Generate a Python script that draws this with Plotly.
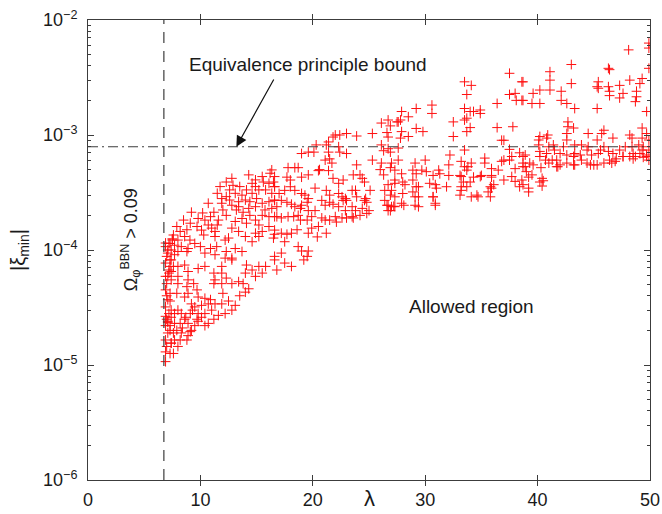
import math
import plotly.graph_objects as go

# ---- data (lambda, |xi_min|) ----
pts_edge = [
    (6.9,1.07e-5),(6.9,1.3e-5),(7.0,1.45e-5),(6.9,1.65e-5),(7.1,1.9e-5),(6.9,2.2e-5),(7.0,2.5e-5),(7.2,2.8e-5),(6.9,3.2e-5),(7.1,3.7e-5),
    (6.9,4.5e-5),(7.0,5.1e-5),(6.9,5.9e-5),(7.2,6.7e-5),(6.9,7.7e-5),(7.0,8.8e-5),(7.1,1.0e-4),(6.9,1.07e-4),(7.3,1.14e-4),(7.1,9.4e-5),
    (7.3,1.26e-5),(7.4,1.55e-5),(7.3,2.0e-5),(7.4,3.0e-5),(7.3,4.2e-5),(7.4,5.5e-5),(7.3,7.2e-5),(7.4,8.2e-5),(7.5,1.22e-4),(7.2,6.3e-5),
    (6.9,1.15e-4),(7.0,4.0e-5),(7.1,2.35e-5),(6.9,2.65e-5),
]
pts_low = [
    (7.6,1.26e-5),(8.0,1.45e-5),(7.4,1.55e-5),(7.7,1.65e-5),(8.2,1.65e-5),(8.8,1.65e-5),(8.9,1.8e-5),(7.6,1.9e-5),(8.3,1.9e-5),(9.1,1.95e-5),
    (7.9,2.0e-5),(9.2,2.0e-5),(7.3,2.2e-5),(9.5,2.2e-5),(10.4,2.2e-5),(7.7,2.3e-5),(8.2,2.3e-5),(8.9,2.3e-5),(10.7,2.3e-5),(7.1,2.4e-5),
    (9.8,2.4e-5),(8.6,2.5e-5),(9.7,2.5e-5),(11.2,2.5e-5),(7.4,2.6e-5),(10.1,2.6e-5),(11.6,2.7e-5),(7.7,2.8e-5),(8.3,2.8e-5),(9.1,2.8e-5),
    (9.8,2.8e-5),(10.4,2.8e-5),(12.2,2.8e-5),(8.0,3.0e-5),(11.0,3.0e-5),(12.8,3.0e-5),(9.5,3.2e-5),(10.1,3.3e-5),(13.1,3.3e-5),(9.2,3.4e-5),
    (10.7,3.4e-5),(11.3,3.4e-5),(11.9,3.4e-5),(7.3,3.6e-5),(10.4,3.8e-5),(8.6,3.9e-5),(9.8,3.9e-5),(8.9,4.2e-5),(7.9,4.2e-5),(9.7,4.5e-5),
    (8.8,4.8e-5),(9.4,5.1e-5),(8.0,5.1e-5),(8.9,5.5e-5),(11.2,5.1e-5),(11.9,5.1e-5),(12.8,5.1e-5),(13.4,5.3e-5),(13.8,5.1e-5),(14.3,4.6e-5),
    (14.0,4.3e-5),(11.3,5.5e-5),(12.3,5.7e-5),(8.4,2.1e-5),(8.7,2.6e-5),(9.3,3.0e-5),(10.9,3.7e-5),(12.5,3.6e-5),(13.5,4.0e-5),(12.0,4.2e-5),
]
pts_mid = [
    (7.7,9.1e-5),(7.3,8.2e-5),(7.6,7.2e-5),(8.0,7.2e-5),(7.4,6.5e-5),(7.1,5.9e-5),(8.6,7.4e-5),(8.9,6.5e-5),(8.0,5.9e-5),(9.8,6.9e-5),
    (10.4,7.2e-5),(11.2,6.3e-5),(11.9,7.2e-5),(12.8,8.2e-5),(11.9,6.3e-5),(15.2,7.2e-5),(14.0,6.3e-5),(14.6,6.7e-5),(14.1,7.4e-5),(15.8,7.2e-5),
    (16.6,8.2e-5),(16.8,6.7e-5),(15.5,6.3e-5),(14.9,5.9e-5),(12.2,8.5e-5),(12.8,8.5e-5),(12.3,9.7e-5),(13.1,1.03e-4),(13.7,9.7e-5),(11.45,1.07e-4),
    (7.6,1.35e-4),(8.0,1.22e-4),(8.6,1.31e-4),(9.07,1.22e-4),(9.5,1.14e-4),(7.2,1.14e-4),(7.7,1.1e-4),(8.3,1.07e-4),(8.9,1.03e-4),(7.4,1.0e-4),
    (8.0,9.7e-5),(8.8,9.7e-5),(10.0,1.07e-4),(10.9,1.03e-4),(11.3,9.1e-5),(10.4,9.4e-5),(8.5,1.82e-4),(9.1,1.71e-4),(9.2,2.13e-4),(9.8,1.88e-4),
    (9.7,1.6e-4),(10.1,1.49e-4),(10.4,1.82e-4),(10.7,1.65e-4),(11.0,1.55e-4),(11.3,1.45e-4),(10.3,1.35e-4),(11.3,1.31e-4),(12.2,1.22e-4),(12.5,1.27e-4),
    (8.2,1.45e-4),(7.9,1.6e-4),(8.8,1.5e-4),(7.5,1.25e-4),
]
pts_up = [
    (10.7,2.55e-4),(11.2,2.13e-4),(11.9,2.55e-4),(12.0,2.23e-4),(12.3,2.0e-4),(11.6,1.82e-4),(11.5,1.65e-4),(16.35,4.97e-4),(16.2,4.65e-4),(14.3,4.5e-4),
    (15.5,4.35e-4),(15.6,3.9e-4),(14.6,3.8e-4),(14.9,3.56e-4),(16.1,3.8e-4),(16.5,3.9e-4),(16.6,3.56e-4),(15.2,3.33e-4),(15.8,3.33e-4),(16.35,3.11e-4),
    (14.6,3.11e-4),(14.1,3.33e-4),(12.3,3.9e-4),(12.9,3.65e-4),(12.6,3.33e-4),(13.1,3.11e-4),(12.3,2.91e-4),(13.7,3.0e-4),(13.4,2.63e-4),(14.0,2.72e-4),
    (12.8,2.45e-4),(13.4,2.38e-4),(14.3,2.3e-4),(14.9,2.38e-4),(15.5,2.55e-4),(16.1,2.63e-4),(16.6,2.72e-4),(16.8,2.38e-4),(13.1,1.77e-4),(13.7,1.88e-4),
    (14.4,2.0e-4),(14.9,1.82e-4),(15.5,2.0e-4),(16.1,1.95e-4),(16.8,1.95e-4),(14.0,1.31e-4),(14.6,1.18e-4),(15.2,1.31e-4),(15.5,1.45e-4),(16.1,1.6e-4),
    (16.6,1.49e-4),(16.5,1.27e-4),(14.9,1.4e-4),(13.4,1.45e-4),(12.8,1.55e-4),(11.75,3.56e-4),(11.5,3.11e-4),(11.9,2.8e-4),(12.6,2.72e-4),(13.2,2.23e-4),
    (13.8,2.13e-4),(14.1,1.71e-4),(15.2,1.65e-4),(15.75,2.23e-4),(16.35,2.3e-4),(15.0,2.8e-4),(14.4,2.63e-4),(13.5,3.56e-4),(12.8,4.2e-4),(14.9,4.07e-4),
    (16.6,4.35e-4),(10.9,1.95e-4),(10.2,2.1e-4),
]
pts_mid_lam = [
    (26.1,1.27e-3),(26.7,1.35e-3),(26.9,1.2e-3),(26.6,1.05e-3),(26.7,9.6e-4),(27.5,1.3e-3),(25.3,1.03e-3),(22.0,1.0e-3),(22.4,1.0e-3),(23.0,1.03e-3),
    (23.9,9.8e-4),(21.8,9.6e-4),(20.3,8.2e-4),(21.2,8.2e-4),(21.4,8.7e-4),(22.3,7.9e-4),(22.4,7.1e-4),(23.0,6.9e-4),(26.1,8.2e-4),(26.3,7.3e-4),
    (26.7,7.6e-4),(26.9,7.1e-4),(19.0,6.9e-4),(19.6,7.1e-4),(20.1,7.1e-4),(21.4,7.1e-4),(21.1,6.05e-4),(21.5,6.2e-4),(21.7,5.7e-4),(23.9,5.5e-4),
    (25.3,6.05e-4),(26.1,5.7e-4),(27.0,5.7e-4),(26.9,5.2e-4),(26.0,5.0e-4),(26.3,4.5e-4),(17.8,5.2e-4),(18.4,5.2e-4),(18.7,5.2e-4),(17.7,4.3e-4),
    (18.0,4.06e-4),(19.0,4.3e-4),(19.6,4.5e-4),(20.5,4.9e-4),(20.6,5.0e-4),(21.4,4.9e-4),(21.8,4.2e-4),(22.7,4.06e-4),(22.3,3.8e-4),(23.6,4.5e-4),
    (24.2,4.5e-4),(24.4,4.2e-4),(24.6,3.9e-4),(16.6,3.55e-4),(17.0,3.1e-4),(17.5,3.3e-4),(18.0,3.55e-4),(18.4,3.3e-4),(19.0,3.1e-4),(19.3,3.0e-4),
    (19.6,2.8e-4),(20.2,3.45e-4),(21.2,3.3e-4),(21.5,3.0e-4),(22.3,3.1e-4),(22.6,2.9e-4),(22.9,2.8e-4),(23.5,3.3e-4),(23.8,3.3e-4),(23.9,2.9e-4),
    (24.7,2.8e-4),(25.1,3.3e-4),(26.4,3.3e-4),(26.7,3.7e-4),(27.0,3.3e-4),(27.3,4.06e-4),(26.9,3.0e-4),(16.6,2.7e-4),(17.2,2.7e-4),(17.7,2.6e-4),
    (18.1,2.5e-4),(18.4,2.38e-4),(18.9,2.3e-4),(19.0,2.45e-4),(19.5,2.6e-4),(19.6,2.2e-4),(20.2,2.2e-4),(20.8,2.7e-4),(21.1,2.45e-4),(21.5,2.6e-4),
    (21.8,2.5e-4),(22.3,2.38e-4),(22.7,2.7e-4),(23.0,2.7e-4),(23.5,2.38e-4),(23.8,2.2e-4),(24.4,2.3e-4),(25.0,2.2e-4),(26.4,2.7e-4),(26.7,2.45e-4),
    (27.0,2.38e-4),(26.9,2.2e-4),(22.9,2.2e-4),(23.5,1.95e-4),(16.6,1.95e-4),(17.2,1.9e-4),(17.8,1.95e-4),(18.3,1.95e-4),(18.7,2.0e-4),(18.9,1.82e-4),
    (19.5,1.82e-4),(19.9,1.95e-4),(20.8,1.9e-4),(21.1,1.82e-4),(21.5,1.82e-4),(22.0,1.95e-4),(22.1,1.75e-4),(22.6,1.9e-4),(23.0,1.9e-4),(23.6,1.9e-4),
    (16.6,1.37e-4),(17.2,1.4e-4),(17.7,1.37e-4),(18.1,1.4e-4),(18.6,1.5e-4),(19.6,1.4e-4),(19.9,1.55e-4),(20.5,1.6e-4),(21.2,1.4e-4),(20.4,1.3e-4),
    (18.7,1.07e-4),(19.0,9.8e-5),(19.6,9.8e-5),(19.5,8.8e-5),(17.5,1.18e-4),(17.2,9.4e-5),(17.5,7.7e-5),(18.1,7.2e-5),(16.6,8.8e-5),(19.2,8.2e-5),
    (24.8,2.08e-4),(24.2,2.0e-4),(26.7,2.2e-4),(26.6,2.45e-4),(27.2,2.4e-4),(24.6,2.7e-4),(24.8,2.6e-4),
]
pts_high_lam = [
    (37.5,3.44e-3),(38.7,2.9e-3),(33.5,2.9e-3),(34.1,2.7e-3),(33.7,2.25e-3),(37.5,2.25e-3),(38.0,2.3e-3),(38.1,2.0e-3),(38.7,2.0e-3),(36.4,1.88e-3),
    (30.6,1.82e-3),(30.6,1.54e-3),(29.2,1.7e-3),(27.9,1.6e-3),(28.5,1.44e-3),(27.6,1.3e-3),(27.8,1.35e-3),(29.2,1.14e-3),(29.8,1.07e-3),(27.9,1.07e-3),
    (28.5,9.7e-4),(27.8,9.4e-4),(33.5,1.7e-3),(34.0,1.6e-3),(34.3,1.6e-3),(34.9,1.65e-3),(34.9,1.54e-3),(33.7,1.4e-3),(33.5,1.35e-3),(32.5,1.3e-3),
    (34.0,1.16e-3),(33.7,1.07e-3),(32.5,9.7e-4),(36.4,1.16e-3),(37.8,1.18e-3),(36.8,9.0e-4),(37.0,9.0e-4),(27.6,7.7e-4),(33.5,7.4e-4),(37.5,7.5e-4),
    (37.7,6.5e-4),(38.4,7.0e-4),(38.7,6.5e-4),(27.6,6.05e-4),(29.1,5.7e-4),(30.0,6.05e-4),(32.2,6.7e-4),(32.1,5.5e-4),(33.2,5.9e-4),(33.5,5.3e-4),
    (34.1,5.7e-4),(33.7,4.95e-4),(33.8,5.3e-4),(35.3,6.3e-4),(35.3,5.7e-4),(35.9,5.1e-4),(36.8,5.9e-4),(37.0,6.05e-4),(37.5,6.05e-4),(38.0,5.1e-4),
    (38.7,5.3e-4),(36.5,4.95e-4),(27.3,4.95e-4),(27.9,4.6e-4),(28.9,4.95e-4),(29.2,4.6e-4),(29.7,4.95e-4),(30.1,4.8e-4),(30.7,4.45e-4),(31.2,4.95e-4),
    (31.3,4.6e-4),(32.1,4.45e-4),(33.1,4.45e-4),(33.2,4.35e-4),(33.4,3.9e-4),(33.7,3.55e-4),(34.0,3.9e-4),(34.3,4.3e-4),(34.9,4.35e-4),(35.0,4.45e-4),
    (35.9,4.45e-4),(35.9,4.3e-4),(35.8,3.55e-4),(36.1,3.7e-4),(37.0,4.06e-4),(38.0,3.95e-4),(38.6,4.06e-4),(38.4,3.55e-4),(37.7,4.35e-4),(27.3,3.8e-4),
    (28.0,3.9e-4),(28.2,3.7e-4),(28.9,4.06e-4),(29.2,3.55e-4),(29.4,3.55e-4),(28.9,3.2e-4),(29.1,2.9e-4),(29.4,2.9e-4),(30.4,3.8e-4),(30.9,3.7e-4),
    (31.0,3.45e-4),(30.7,2.9e-4),(30.9,2.55e-4),(31.9,3.55e-4),(33.2,3.55e-4),(33.2,3.3e-4),(34.1,2.9e-4),(34.6,3.0e-4),(35.6,3.2e-4),(35.9,3.45e-4),
    (27.3,2.9e-4),(27.9,2.55e-4),(27.3,2.38e-4),(29.1,2.45e-4),(29.4,2.38e-4),(28.0,3.1e-4),(28.1,2.45e-4),(30.9,2.45e-4),(30.7,2.9e-4),(33.1,3.0e-4),
    (34.7,2.9e-4),(35.8,2.9e-4),(39.2,3.2e-4),
]
pts_top_lam = [
    (48.1,5.5e-3),(49.9,5.7e-3),(43.0,4.1e-3),(46.3,3.8e-3),(46.4,3.7e-3),(49.9,3.8e-3),(41.1,3.55e-3),(41.1,3.0e-3),(38.6,2.9e-3),(43.0,2.8e-3),
    (45.4,2.9e-3),(45.4,2.55e-3),(45.3,2.63e-3),(46.3,2.63e-3),(46.4,2.4e-3),(47.3,2.7e-3),(48.2,3.0e-3),(49.1,2.8e-3),(49.3,3.1e-3),(48.8,2.4e-3),
    (48.8,2.15e-3),(48.7,1.95e-3),(47.6,2.3e-3),(47.3,2.1e-3),(40.2,2.46e-3),(39.6,2.3e-3),(39.5,1.88e-3),(40.2,1.88e-3),(41.1,2.46e-3),(38.6,2.0e-3),
    (42.1,2.4e-3),(42.1,2.0e-3),(42.6,1.88e-3),(43.3,1.7e-3),(45.3,1.7e-3),(49.7,1.6e-3),(46.4,2.2e-3),(42.7,1.3e-3),(42.7,1.18e-3),(43.2,1.15e-3),
    (49.3,1.15e-3),(40.9,1.0e-3),(40.8,9.4e-4),(40.2,9.7e-4),(40.1,9.05e-4),(42.6,1.03e-3),(42.6,9.05e-4),(44.5,1.03e-3),(45.9,1.1e-3),(45.7,1.03e-3),
    (45.3,9.05e-4),(46.7,9.4e-4),(48.2,1.0e-3),(48.4,9.4e-4),(49.7,1.03e-3),(49.9,9.05e-4),(49.3,9.4e-4),(38.9,6.7e-4),(49.9,6.3e-3),
    (40.1,8.2e-4),(41.0,7.9e-4),(41.4,8.2e-4),(42.3,7.9e-4),(43.3,8.2e-4),(43.9,8.2e-4),(44.5,7.9e-4),(45.9,7.9e-4),(47.8,7.9e-4),(48.4,7.9e-4),
    (49.0,8.2e-4),(49.4,7.9e-4),(49.3,7.4e-4),
    (40.2,7.2e-4),(40.8,6.9e-4),(41.5,7.4e-4),(42.0,6.9e-4),(42.6,6.7e-4),(43.2,6.5e-4),(43.3,6.9e-4),(43.8,6.7e-4),(44.4,7.4e-4),(44.8,6.7e-4),
    (45.4,6.9e-4),(45.6,7.4e-4),(46.3,7.2e-4),(46.7,6.9e-4),(47.3,7.4e-4),(47.6,6.5e-4),(48.5,6.9e-4),(48.7,6.5e-4),(49.1,6.9e-4),(49.7,6.7e-4),
    (49.9,7.4e-4),
    (38.7,5.7e-4),(38.9,5.3e-4),(39.3,5.7e-4),(39.6,5.5e-4),(40.2,6.5e-4),(40.7,6.05e-4),(41.0,5.7e-4),(41.3,6.05e-4),(41.7,6.05e-4),(41.8,5.3e-4),
    (42.0,5.5e-4),(42.6,5.7e-4),(43.3,5.5e-4),(43.9,6.05e-4),(44.4,5.7e-4),(44.7,5.5e-4),(45.3,5.5e-4),(45.9,5.7e-4),(46.4,6.05e-4),(47.0,6.2e-4),
    (47.6,6.5e-4),(48.2,6.5e-4),(49.4,6.4e-4),(49.9,6.05e-4),
    (39.0,4.8e-4),(39.5,4.5e-4),(39.2,4.3e-4),(38.7,3.7e-4),(39.2,3.45e-4),(40.2,3.9e-4),(40.5,4.0e-4),(40.4,4.2e-4),
    (40.3,5.2e-4),(41.7,5.3e-4),(43.2,5.5e-4),(45.0,5.5e-4),(46.6,5.7e-4),(46.9,5.9e-4),(48.5,6.2e-4),(49.7,6.5e-4),(40.4,3.6e-4),
]

# reference lines
bbn_lambda = 6.75          # Omega_phi^BBN > 0.09 boundary
ep_bound = 7.9e-4          # equivalence principle bound on |xi|

# axis ticks
x_ticks = [0, 10, 20, 30, 40, 50]
y_decades = [1e-6, 1e-5, 1e-4, 1e-3, 1e-2]
y_tick_text = ["10<sup>\u22126</sup>", "10<sup>\u22125</sup>", "10<sup>\u22124</sup>",
               "10<sup>\u22123</sup>", "10<sup>\u22122</sup>"]
y_minor_mult = [2, 3, 4, 5, 6, 7, 8, 9]

# annotation anchors (data coordinates)
ep_text_pos = (19.6, 4.14e-3)
ep_arrow_tail = (16.6, 3.13e-3)
ep_arrow_head = (13.2, 7.9e-4)
allowed_pos = (34.1, 3.2e-5)
bbn_text_pos = (3.75, 1.22e-4)

# ---- figure ----
all_pts = pts_edge + pts_low + pts_mid + pts_up + pts_mid_lam + pts_high_lam + pts_top_lam
lam = [p[0] for p in all_pts]
xi = [p[1] for p in all_pts]
y_minor = [m * d for d in y_decades[:-1] for m in y_minor_mult]

FONT = "Liberation Sans, Arial, Helvetica, sans-serif"
INK = "#1a1a1a"
LINE = "#3c3c3c"
Y_RANGE = [math.log10(y_decades[0]), math.log10(y_decades[-1])]

fig = go.Figure()
fig.add_trace(go.Scatter(
    x=lam, y=xi, mode="markers",
    marker=dict(symbol="cross-thin", size=7, color="#ff0000",
                line=dict(width=1, color="#ff1010")),
    showlegend=False, hoverinfo="skip"))

fig.add_trace(go.Scatter(
    x=[bbn_lambda, bbn_lambda], y=[y_decades[0], y_decades[-1]], mode="lines",
    line=dict(color=LINE, width=1.2, dash="11px,8px"),
    showlegend=False, hoverinfo="skip"))
fig.add_trace(go.Scatter(
    x=[x_ticks[0], x_ticks[-1]], y=[ep_bound, ep_bound], mode="lines",
    line=dict(color=LINE, width=1.2, dash="10px,4px,2px,4px"),
    showlegend=False, hoverinfo="skip"))

fig.add_annotation(x=ep_text_pos[0], y=math.log10(ep_text_pos[1]),
                   text="Equivalence principle bound", showarrow=False,
                   font=dict(family=FONT, size=19, color=INK))
fig.add_annotation(x=ep_arrow_head[0], y=math.log10(ep_arrow_head[1]),
                   ax=ep_arrow_tail[0], ay=math.log10(ep_arrow_tail[1]),
                   axref="x", ayref="y", xref="x", yref="y",
                   text="", showarrow=True, arrowhead=2, arrowsize=1.8,
                   arrowwidth=1.2, arrowcolor="#111111", standoff=0)
fig.add_annotation(x=allowed_pos[0], y=math.log10(allowed_pos[1]),
                   text="Allowed region", showarrow=False,
                   font=dict(family=FONT, size=19, color=INK))
fig.add_annotation(x=bbn_text_pos[0], y=math.log10(bbn_text_pos[1]),
                   text="\u03a9<sub>\u03c6</sub><sup>BBN</sup> > 0.09", textangle=-90,
                   showarrow=False, font=dict(family=FONT, size=18, color=INK))
# x-axis title placed below the tick labels
fig.add_annotation(x=0.5, y=-0.04, xref="paper", yref="paper", yanchor="middle",
                   text="\u03bb", showarrow=False,
                   font=dict(family=FONT, size=22, color=INK))

fig.update_layout(
    width=662, height=514,
    margin=dict(l=88, r=12, t=20, b=34),
    paper_bgcolor="white", plot_bgcolor="white",
    xaxis=dict(
        range=[x_ticks[0], x_ticks[-1]], tickvals=x_ticks, ticks="inside", ticklen=5,
        tickcolor=LINE, showline=True, linecolor=LINE, linewidth=1, mirror="allticks",
        showgrid=False, zeroline=False, ticklabelstandoff=3, automargin=False,
        tickfont=dict(family=FONT, size=18, color=INK)),
    yaxis=dict(
        type="log", range=Y_RANGE, tickvals=y_decades, ticktext=y_tick_text,
        ticks="inside", ticklen=6, tickcolor=LINE,
        showline=True, linecolor=LINE, linewidth=1, mirror="allticks",
        showgrid=False, zeroline=False, ticklabelstandoff=6, automargin=False,
        tickfont=dict(family=FONT, size=18, color=INK),
        title=dict(text="|\u03be<sub>min</sub>|", font=dict(family=FONT, size=20, color=INK), standoff=12)),
    # overlay axis carrying only the minor (2..9) log ticks, mirrored on both sides
    yaxis2=dict(
        type="log", range=Y_RANGE, overlaying="y", side="left", anchor="x",
        tickvals=y_minor, ticks="inside", ticklen=3, tickcolor=LINE,
        showticklabels=False, showline=True, linecolor=LINE, linewidth=1, mirror="allticks",
        showgrid=False, zeroline=False, automargin=False),
)
# invisible trace so the overlay axis is drawn
fig.add_trace(go.Scatter(x=[x_ticks[0]], y=[y_decades[0]], yaxis="y2", mode="markers",
                         marker=dict(opacity=0), showlegend=False, hoverinfo="skip"))

fig.write_html("out.html", config={"displayModeBar": False},
               post_script="document.body.style.margin='0';")
